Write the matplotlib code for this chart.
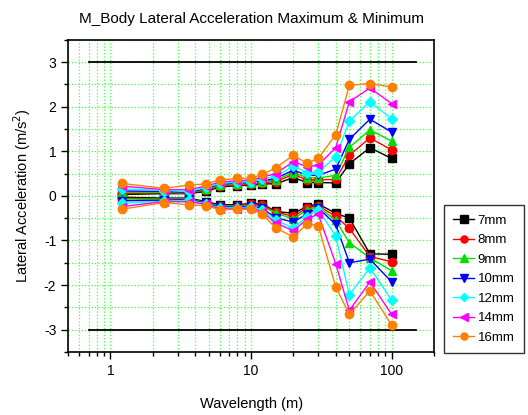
import matplotlib
matplotlib.use("Agg")
import matplotlib.pyplot as plt
from matplotlib.ticker import LogLocator, NullFormatter, MultipleLocator, FuncFormatter

plt.rcParams['font.family'] = ['Liberation Sans', 'DejaVu Sans']
plt.rcParams['axes.unicode_minus'] = False

# longitudes de onda (m)
wavelength = [1.2, 2.4, 3.6, 4.8, 6, 8, 10, 12, 15, 20, 25, 30, 40, 50, 70, 100]

labels = ["7mm", "8mm", "9mm", "10mm", "12mm", "14mm", "16mm"]

# maximos
max_7  = [0.03, 0.05, 0.05, 0.10, 0.20, 0.23, 0.24, 0.27, 0.27, 0.41, 0.30, 0.30, 0.29, 0.72, 1.08, 0.84]
max_8  = [0.05, 0.07, 0.06, 0.13, 0.22, 0.25, 0.26, 0.30, 0.32, 0.48, 0.36, 0.36, 0.37, 0.91, 1.30, 1.03]
max_9  = [0.08, 0.08, 0.07, 0.15, 0.24, 0.27, 0.28, 0.32, 0.36, 0.52, 0.41, 0.40, 0.46, 1.09, 1.48, 1.23]
max_10 = [0.11, 0.10, 0.08, 0.17, 0.26, 0.29, 0.30, 0.34, 0.39, 0.58, 0.46, 0.46, 0.60, 1.27, 1.72, 1.43]
max_12 = [0.16, 0.12, 0.10, 0.19, 0.28, 0.31, 0.32, 0.38, 0.44, 0.67, 0.52, 0.54, 0.87, 1.68, 2.11, 1.73]
max_14 = [0.22, 0.14, 0.14, 0.22, 0.31, 0.34, 0.35, 0.42, 0.50, 0.77, 0.65, 0.69, 1.08, 2.11, 2.42, 2.07]
max_16 = [0.28, 0.17, 0.24, 0.27, 0.36, 0.39, 0.40, 0.48, 0.63, 0.91, 0.73, 0.84, 1.37, 2.48, 2.52, 2.44]

# minimos
min_7  = [-0.03, -0.05, -0.05, -0.13, -0.20, -0.20, -0.17, -0.18, -0.35, -0.39, -0.24, -0.18, -0.39, -0.50, -1.30, -1.31]
min_8  = [-0.05, -0.07, -0.06, -0.15, -0.22, -0.22, -0.19, -0.21, -0.36, -0.46, -0.27, -0.22, -0.46, -0.73, -1.36, -1.48]
min_9  = [-0.07, -0.08, -0.07, -0.16, -0.23, -0.23, -0.21, -0.24, -0.38, -0.52, -0.31, -0.24, -0.55, -1.05, -1.39, -1.68]
min_10 = [-0.11, -0.10, -0.08, -0.17, -0.25, -0.25, -0.23, -0.28, -0.49, -0.59, -0.40, -0.27, -0.64, -1.50, -1.42, -1.93]
min_12 = [-0.17, -0.12, -0.10, -0.18, -0.27, -0.27, -0.25, -0.32, -0.55, -0.72, -0.47, -0.31, -0.90, -2.22, -1.61, -2.34]
min_14 = [-0.24, -0.13, -0.13, -0.19, -0.29, -0.29, -0.27, -0.36, -0.61, -0.78, -0.52, -0.41, -1.52, -2.57, -1.93, -2.66]
min_16 = [-0.30, -0.15, -0.20, -0.22, -0.31, -0.30, -0.30, -0.41, -0.72, -0.92, -0.63, -0.67, -2.04, -2.66, -2.13, -2.90]

maxs = [max_7, max_8, max_9, max_10, max_12, max_14, max_16]
mins = [min_7, min_8, min_9, min_10, min_12, min_14, min_16]

colors  = ["black", "red", "#00dd00", "blue", "cyan", "magenta", "#ff8000"]
markers = ["s", "o", "^", "v", "D", "<", "o"]

# limites +-3 m/s2
limit_x = [0.7, 150]
limit_hi = [3, 3]
limit_lo = [-3, -3]

fig = plt.figure(figsize=(5.28, 4.15), dpi=100)
ax = fig.add_axes([0.129, 0.152, 0.693, 0.752])

ax.plot(limit_x, limit_hi, color="black", lw=1.3, zorder=2)
ax.plot(limit_x, limit_lo, color="black", lw=1.3, zorder=2)

for lab, c, m, hi, lo in zip(labels, colors, markers, maxs, mins):
    ms = 5 if m == "D" else 6
    ax.plot(wavelength, hi, color=c, marker=m, ms=ms, lw=1, label=lab, zorder=3)
    ax.plot(wavelength, lo, color=c, marker=m, ms=ms, lw=1, zorder=3)

ax.set_xscale("log")
ax.set_xlim(0.5, 200)
ax.set_ylim(-3.5, 3.5)
ax.xaxis.set_major_locator(LogLocator(base=10, numticks=10))
ax.xaxis.set_minor_locator(LogLocator(base=10, subs=range(2, 10), numticks=20))
ax.xaxis.set_minor_formatter(NullFormatter())
ax.xaxis.set_major_formatter(FuncFormatter(lambda v, p: f"{v:g}"))
ax.yaxis.set_major_locator(MultipleLocator(1))
ax.yaxis.set_minor_locator(MultipleLocator(0.5))

ax.grid(which="both", color="#44ff44", linestyle=":", lw=0.9, zorder=0)
ax.set_axisbelow(True)
ax.tick_params(which="major", direction="out", length=5, width=1, labelsize=10)
ax.tick_params(which="minor", direction="out", length=3, width=1)
for s in ax.spines.values():
    s.set_linewidth(1.2)

ax.set_title("M_Body Lateral Acceleration Maximum & Minimum", fontsize=11, pad=12)
ax.set_xlabel("Wavelength (m)", fontsize=10.5, labelpad=14)
ax.set_ylabel("Lateral Acceleration (m/s$^2$)", fontsize=10.5, labelpad=8)

leg = ax.legend(loc="upper left", bbox_to_anchor=(1.027, 0.47), fontsize=9.5,
                frameon=True, fancybox=False, edgecolor="black", handlelength=1.6,
                borderpad=0.7, labelspacing=0.55, handletextpad=0.25,
                borderaxespad=0, markerscale=0.85)
leg.get_frame().set_linewidth(1)

fig.savefig("out.png", dpi=100)
